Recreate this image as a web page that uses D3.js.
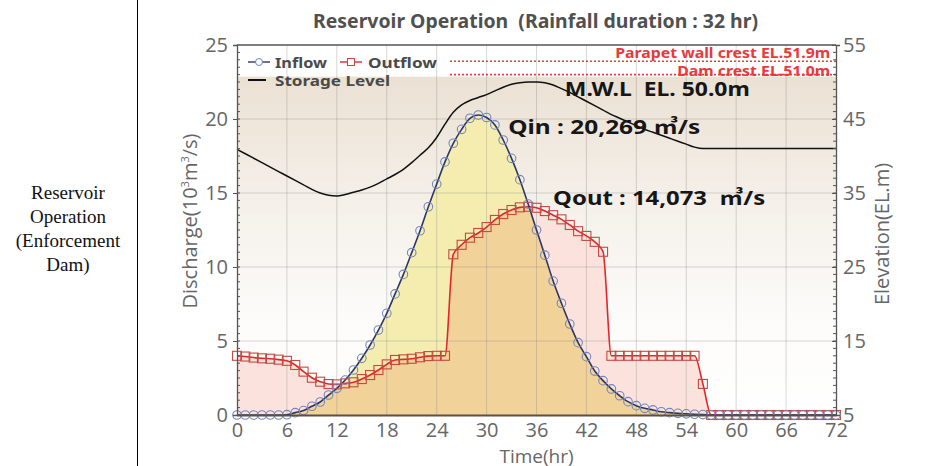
<!DOCTYPE html>
<html>
<head>
<meta charset="utf-8">
<script src="https://cdn.jsdelivr.net/npm/d3@7"></script>
<style>
  body { margin: 0; background: #fff; }
  svg { display: block; }
</style>
</head>
<body>
<div id="chart"></div>
<script>
// DATA

var hours = d3.range(0, 73)

var inflow = [0, 0, 0, 0, 0, 0, 0.02, 0.16, 0.3, 0.59, 0.88, 1.35, 1.8, 2.36, 3.04, 3.83, 4.73, 5.74, 6.87, 8.18,
    9.5, 10.97, 12.45, 14.07, 15.6, 17.1, 18.36, 19.3, 20.05, 20.27, 20.1, 19.6, 18.58, 17.34, 15.9, 14.25,
    12.5, 10.8, 9.05, 7.55, 6.15, 4.89, 3.94, 2.97, 2.32, 1.76, 1.3, 0.9, 0.63, 0.45, 0.34, 0.22, 0.16, 0.11,
    0.08, 0.05, 0.03, 0, 0, 0, 0, 0, 0, 0, 0, 0, 0, 0, 0, 0, 0, 0, 0]

var outflow = [4.0, 3.95, 3.88, 3.83, 3.8, 3.74, 3.66, 3.38, 2.93, 2.52, 2.25, 2.09, 2.07, 2.14, 2.21, 2.43, 2.7,
    3.04, 3.42, 3.72, 3.76, 3.8, 3.9, 3.98, 4.0, 4.0, 10.86, 11.5, 11.98, 12.3, 12.7, 13.18, 13.58, 13.85, 14.03,
    14.07, 14.0, 13.78, 13.5, 13.22, 12.84, 12.42, 12.1, 11.7, 11.03, 4.0, 4.0, 4.0, 4.0, 4.0, 4.0, 4.0, 4.0, 4.0,
    4.0, 4.0, 2.1, 0, 0, 0, 0, 0, 0, 0, 0, 0, 0, 0, 0, 0, 0, 0, 0]

var storage = [40.9, 40.3, 39.7, 39.1, 38.5, 37.9, 37.3, 36.7, 36.1, 35.5, 35.0, 34.7, 34.6, 34.8, 35.1, 35.4,
    35.8, 36.3, 36.9, 37.5, 38.2, 39.1, 40.1, 41.1, 42.5, 44.3, 45.9, 46.9, 47.5, 47.9, 48.3, 48.8, 49.3, 49.7,
    49.9, 50.0, 50.0, 49.9, 49.6, 49.1, 48.6, 48.0, 47.4, 46.8, 46.2, 45.6, 45.1, 44.6, 44.1, 43.6, 43.2, 42.8,
    42.4, 42.0, 41.6, 41.2, 41.0, 41.0, 41.0, 41.0, 41.0, 41.0, 41.0, 41.0, 41.0, 41.0, 41.0, 41.0, 41.0, 41.0,
    41.0, 41.0, 41.0]

var xTicks = [0, 6, 12, 18, 24, 30, 36, 42, 48, 54, 60, 66, 72]
var leftTicks = [0, 5, 10, 15, 20, 25]
var rightTicks = [5, 15, 25, 35, 45, 55]

var parapetLevel = 52.8
var damCrestLevel = 51.0
var mwlLevel = 50.0
var qinPeak = 20.269
var qoutPeak = 14.073

// DEFINE DIMENSIONS

var svgWidth = 938
var svgHeight = 466

var margin = {
    top: 45,
    bottom: 51,
    left: 237,
    right: 102,
}

var width = svgWidth - margin.left - margin.right
var height = svgHeight - margin.top - margin.bottom

var svg = d3.select("#chart").append("svg")
    .attr("width", svgWidth)
    .attr("height", svgHeight)

var defs = svg.append("defs")
var grad = defs.append("linearGradient")
    .attr("id", "bg")
    .attr("x1", 0).attr("y1", 0).attr("x2", 0).attr("y2", 1)
grad.append("stop").attr("offset", "0%").attr("stop-color", "#ebe1d3")
grad.append("stop").attr("offset", "35%").attr("stop-color", "#f4efe8")
grad.append("stop").attr("offset", "70%").attr("stop-color", "#fcfbf9")
grad.append("stop").attr("offset", "100%").attr("stop-color", "#ffffff")

// left table cell
svg.append("line")
    .attr("x1", 137.5).attr("x2", 137.5)
    .attr("y1", 0).attr("y2", svgHeight)
    .attr("stroke", "#000").attr("stroke-width", 1)

var cellText = svg.append("text")
    .attr("text-anchor", "middle")
    .style("font-family", "'Liberation Serif', 'Times New Roman', serif")
    .style("font-size", "19px")
    .attr("fill", "#111")
var cellLines = ["Reservoir", "Operation", "(Enforcement", "Dam)"]
cellLines.forEach((t, i) => {
    cellText.append("tspan").attr("x", 68).attr("y", 199 + i * 24).text(t)
})

var chartGroup = svg.append("g")
    .attr("transform", `translate(${margin.left}, ${margin.top})`)

var xScale = d3.scaleLinear().domain([0, 72]).range([0, width])
var yScale = d3.scaleLinear().domain([0, 25]).range([height, 0])
var y2Scale = d3.scaleLinear().domain([5, 55]).range([height, 0])

// background under dam crest
chartGroup.append("rect")
    .attr("x", 0)
    .attr("y", y2Scale(damCrestLevel) + 2)
    .attr("width", width)
    .attr("height", height - y2Scale(damCrestLevel) - 2)
    .attr("fill", "url(#bg)")

// areas (blend only with each other)
var areaIn = d3.area()
    .x((d, i) => xScale(hours[i]))
    .y0(height)
    .y1(d => yScale(d))
    .curve(d3.curveMonotoneX)

var areaGroup = chartGroup.append("g").style("isolation", "isolate")

areaGroup.append("path")
    .datum(outflow)
    .attr("d", areaIn)
    .attr("fill", "#fbe2dc")

areaGroup.append("path")
    .datum(inflow)
    .attr("d", areaIn)
    .attr("fill", "#f5edb0")
    .style("mix-blend-mode", "multiply")

// grid
chartGroup.append("g")
    .selectAll("line")
    .data(xTicks.slice(1, -1))
    .enter()
    .append("line")
    .attr("x1", d => xScale(d)).attr("x2", d => xScale(d))
    .attr("y1", 0).attr("y2", height)
    .attr("stroke", "rgba(140,140,140,0.35)")

chartGroup.append("g")
    .selectAll("line")
    .data(leftTicks.slice(1, -1))
    .enter()
    .append("line")
    .attr("x1", 0).attr("x2", width)
    .attr("y1", d => yScale(d)).attr("y2", d => yScale(d))
    .attr("stroke", "rgba(140,140,140,0.35)")

// crest lines
chartGroup.append("g")
    .selectAll("line")
    .data([parapetLevel, damCrestLevel])
    .enter()
    .append("line")
    .attr("x1", xScale(25.6)).attr("x2", width)
    .attr("y1", d => y2Scale(d)).attr("y2", d => y2Scale(d))
    .attr("stroke", "#e8393d")
    .attr("stroke-width", 1.6)
    .attr("stroke-dasharray", "2,2")

// storage level
var storageLine = d3.line()
    .x((d, i) => xScale(hours[i]))
    .y(d => y2Scale(d))
    .curve(d3.curveMonotoneX)

chartGroup.append("path")
    .datum(storage)
    .attr("d", storageLine)
    .attr("fill", "none")
    .attr("stroke", "#111")
    .attr("stroke-width", 1.5)

// flows
var flowLine = d3.line()
    .x((d, i) => xScale(hours[i]))
    .y(d => yScale(d))
    .curve(d3.curveMonotoneX)

chartGroup.append("path")
    .datum(outflow)
    .attr("d", flowLine)
    .attr("fill", "none")
    .attr("stroke", "#e3262b")
    .attr("stroke-width", 1.6)

chartGroup.append("path")
    .datum(inflow)
    .attr("d", flowLine)
    .attr("fill", "none")
    .attr("stroke", "#2c3765")
    .attr("stroke-width", 1.6)

chartGroup.append("g")
    .selectAll("rect")
    .data(outflow)
    .enter()
    .append("rect")
    .attr("x", (d, i) => xScale(hours[i]) - 4.5)
    .attr("y", d => yScale(d) - 4.5)
    .attr("width", 9)
    .attr("height", 9)
    .attr("fill", "none")
    .attr("stroke", "#c44a42")
    .attr("stroke-width", 1.1)

chartGroup.append("g")
    .selectAll("circle")
    .data(inflow)
    .enter()
    .append("circle")
    .attr("cx", (d, i) => xScale(hours[i]))
    .attr("cy", d => yScale(d))
    .attr("r", 4.3)
    .attr("fill", "none")
    .attr("stroke", "#7486bd")
    .attr("stroke-width", 1.1)

// axes
var axisFont = "'Open Sans', 'Noto Sans', sans-serif"

var yAxis = d3.axisLeft(yScale).tickValues(leftTicks).tickSize(4).tickPadding(5)
var y2Axis = d3.axisRight(y2Scale).tickValues(rightTicks).tickSize(4).tickPadding(3)
var xAxis = d3.axisBottom(xScale).tickValues(xTicks).tickSize(0).tickPadding(6)

var gy = chartGroup.append("g").call(yAxis)
var gy2 = chartGroup.append("g").attr("transform", `translate(${width},0)`).call(y2Axis)
var gx = chartGroup.append("g").attr("transform", `translate(0,${height})`).call(xAxis)

;[gy, gy2, gx].forEach(g => {
    g.select(".domain").attr("stroke", "#555").attr("stroke-width", 1.3)
    g.selectAll(".tick line").attr("stroke", "#555")
    g.selectAll("text")
        .attr("fill", "#666")
        .style("font-family", axisFont)
        .style("font-size", "20px")
})
gy2.selectAll(".tick line").attr("x2", -4)
gx.select(".domain").attr("stroke", "#5e5040").attr("stroke-width", 2)
gx.selectAll("text").attr("dy", "0.8em")

// minor ticks
chartGroup.append("g")
    .selectAll("line")
    .data(d3.range(0, 25, 0.5))
    .enter()
    .append("line")
    .attr("x1", 0).attr("x2", 3)
    .attr("y1", d => yScale(d)).attr("y2", d => yScale(d))
    .attr("stroke", "#555")

chartGroup.append("g")
    .selectAll("line")
    .data(d3.range(5, 55, 1))
    .enter()
    .append("line")
    .attr("x1", width - 3).attr("x2", width)
    .attr("y1", d => y2Scale(d)).attr("y2", d => y2Scale(d))
    .attr("stroke", "#555")

// frame top
chartGroup.append("line")
    .attr("x1", 0).attr("x2", width)
    .attr("y1", 0).attr("y2", 0)
    .attr("stroke", "#555").attr("stroke-width", 1.3)

// axis titles
svg.append("text")
    .attr("transform", `translate(197, ${margin.top + 176}) rotate(-90)`)
    .attr("text-anchor", "middle")
    .attr("fill", "#666")
    .style("font-family", axisFont)
    .style("font-size", "20px")
    .html("Discharge(10<tspan dy='-8' font-size='11'>3</tspan><tspan dy='8'>m</tspan><tspan dy='-8' font-size='11'>3</tspan><tspan dy='8'>/s)</tspan>")

svg.append("text")
    .attr("transform", `translate(889, ${margin.top + 189}) rotate(-90)`)
    .attr("text-anchor", "middle")
    .attr("fill", "#666")
    .style("font-family", axisFont)
    .style("font-size", "20px")
    .text("Elevation(EL.m)")

svg.append("text")
    .attr("x", margin.left + width / 2)
    .attr("y", 463)
    .attr("text-anchor", "middle")
    .attr("fill", "#666")
    .style("font-family", axisFont)
    .style("font-size", "19px")
    .text("Time(hr)")

// title
svg.append("text")
    .attr("x", 313)
    .attr("y", 28)
    .attr("textLength", 445)
    .attr("lengthAdjust", "spacingAndGlyphs")
    .attr("fill", "#505050")
    .style("font-family", "'Noto Sans', sans-serif")
    .style("font-weight", "bold")
    .style("font-size", "19px")
    .style("white-space", "pre")
    .text("Reservoir Operation  (Rainfall duration : 32 hr)")

// legend
var legend = chartGroup.append("g").attr("transform", "translate(11, 17)")
legend.append("line").attr("x1", 0).attr("x2", 22).attr("y1", 0).attr("y2", 0)
    .attr("stroke", "#2c3765").attr("stroke-width", 1.4)
legend.append("circle").attr("cx", 11).attr("cy", 0).attr("r", 3.5)
    .attr("fill", "#fff").attr("stroke", "#7083bd")
legend.append("line").attr("x1", 92).attr("x2", 114).attr("y1", 0).attr("y2", 0)
    .attr("stroke", "#e3262b").attr("stroke-width", 1.4)
legend.append("rect").attr("x", 99.5).attr("y", -3.5).attr("width", 7).attr("height", 7)
    .attr("fill", "#fff").attr("stroke", "#c9453f")
legend.append("line").attr("x1", 0).attr("x2", 18).attr("y1", 18).attr("y2", 18)
    .attr("stroke", "#111").attr("stroke-width", 2)

var legendItems = [
    { label: "Inflow", x: 27, y: 6, w: 52 },
    { label: "Outflow", x: 120, y: 6, w: 69 },
    { label: "Storage Level", x: 27, y: 24, w: 115 },
]
legend.selectAll("text.leg")
    .data(legendItems)
    .enter()
    .append("text")
    .attr("x", d => d.x)
    .attr("y", d => d.y)
    .attr("textLength", d => d.w)
    .attr("lengthAdjust", "spacingAndGlyphs")
    .attr("fill", "#4a4a4a")
    .style("font-family", "'Noto Sans', sans-serif")
    .style("font-weight", "bold")
    .style("font-size", "15px")
    .text(d => d.label)

// crest labels
var redFont = "'Noto Sans', sans-serif"
chartGroup.append("text")
    .attr("x", xScale(71.3))
    .attr("y", y2Scale(parapetLevel) - 3)
    .attr("text-anchor", "end")
    .attr("textLength", 215)
    .attr("lengthAdjust", "spacingAndGlyphs")
    .attr("fill", "#e8393d")
    .style("font-family", redFont)
    .style("font-weight", "bold")
    .style("font-size", "14px")
    .text("Parapet wall crest EL.51.9m")

chartGroup.append("text")
    .attr("x", xScale(71.3))
    .attr("y", y2Scale(damCrestLevel) + 1)
    .attr("text-anchor", "end")
    .attr("textLength", 153)
    .attr("lengthAdjust", "spacingAndGlyphs")
    .attr("fill", "#e8393d")
    .style("font-family", redFont)
    .style("font-weight", "bold")
    .style("font-size", "14px")
    .text("Dam crest EL.51.0m")

// annotations
var noteFont = "'Noto Sans', 'Noto Sans CJK KR', sans-serif"
var notes = [
    { label: "M.W.L  EL. 50.0m", x: xScale(39.4), y: y2Scale(mwlLevel) + 14, w: 185 },
    { label: "Qin : 20,269 ㎥/s", x: xScale(32.6), y: yScale(qinPeak) + 19, w: 192 },
    { label: "Qout : 14,073  ㎥/s", x: xScale(38.0), y: yScale(qoutPeak) - 2, w: 212 },
]
chartGroup.selectAll("text.note")
    .data(notes)
    .enter()
    .append("text")
    .attr("x", d => d.x)
    .attr("y", d => d.y)
    .attr("textLength", d => d.w)
    .attr("lengthAdjust", "spacingAndGlyphs")
    .attr("fill", "#161616")
    .style("font-family", noteFont)
    .style("font-weight", "bold")
    .style("font-size", "20px")
    .style("white-space", "pre")
    .text(d => d.label)
</script>
</body>
</html>
